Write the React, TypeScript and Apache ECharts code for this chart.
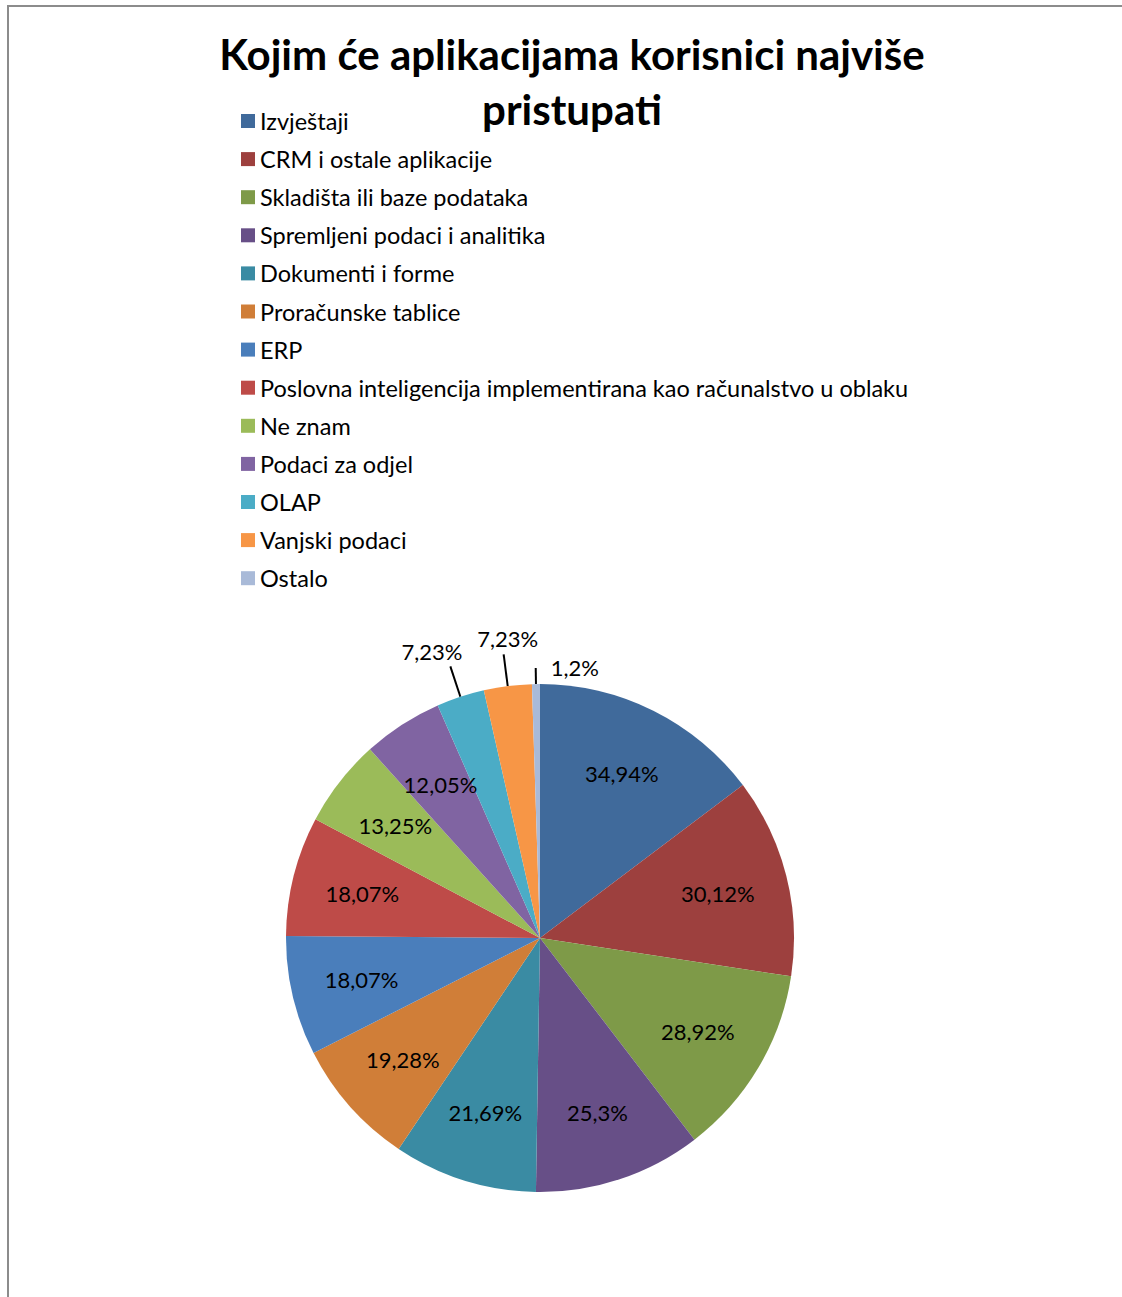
import React, { useEffect, useRef } from "react";
import * as echarts from "echarts";

const titleText = "Kojim će aplikacijama korisnici najviše\npristupati";

const categories = [
  "Izvještaji",
  "CRM i ostale aplikacije",
  "Skladišta ili baze podataka",
  "Spremljeni podaci i analitika",
  "Dokumenti i forme",
  "Proračunske tablice",
  "ERP",
  "Poslovna inteligencija implementirana kao računalstvo u oblaku",
  "Ne znam",
  "Podaci za odjel",
  "OLAP",
  "Vanjski podaci",
  "Ostalo",
];

const values = [34.94, 30.12, 28.92, 25.3, 21.69, 19.28, 18.07, 18.07, 13.25, 12.05, 7.23, 7.23, 1.2];

const colors = [
  "#406A9B",
  "#9D403E",
  "#7E9A48",
  "#674F87",
  "#3A8BA3",
  "#D07E38",
  "#4A7EBB",
  "#BE4B48",
  "#9BBB59",
  "#8064A2",
  "#4BACC6",
  "#F79646",
  "#A9BAD8",
];

// slices whose labels sit outside with leader lines
const outsideLabel = [false, false, false, false, false, false, false, false, false, false, true, true, true];

const fmt = (v: number) => String(v).replace(".", ",") + "%";

export default function App() {
  const ref = useRef<HTMLDivElement>(null);
  useEffect(() => {
    if (!ref.current) return;
    const chart = echarts.init(ref.current, null, { renderer: "svg" });
    const R = 254;
    const center = [540, 938];
    const labelFont = { fontFamily: "Lato", fontSize: 22, color: "#000" };
    const lineLen = [0, 0, 0, 0, 0, 0, 0, 0, 0, 0, 32, 32, 16];
    const lineLen2 = [0, 0, 0, 0, 0, 0, 0, 0, 0, 0, 0, 0, 0];
    chart.setOption({
      animation: false,
      color: colors,
      graphic: [
        {
          type: "rect",
          shape: { x: 8, y: 6, width: 1300, height: 1500 },
          style: { fill: "none", stroke: "#8c8c8c", lineWidth: 2 },
          silent: true,
        },
      ],
      title: {
        text: titleText,
        left: 567,
        top: 21,
        textAlign: "center",
        textStyle: {
          fontFamily: "Lato",
          fontSize: 42,
          fontWeight: "bold",
          lineHeight: 55,
          color: "#000",
        },
      },
      legend: {
        orient: "vertical",
        left: 241,
        top: 109,
        padding: 0,
        itemWidth: 14,
        itemHeight: 14,
        itemGap: 14.1,
        icon: "rect",
        data: categories,
        selectedMode: false,
        textStyle: { fontFamily: "Lato", fontSize: 23.5, lineHeight: 24, color: "#000" },
      },
      series: [
        {
          type: "pie",
          center,
          radius: [0, R],
          startAngle: 90,
          clockwise: true,
          silent: true,
          avoidLabelOverlap: false,
          itemStyle: { borderWidth: 0 },
          data: categories.map((name, i) => ({
            name,
            value: values[i],
            itemStyle: { color: colors[i] },
            label: { show: outsideLabel[i] },
            labelLine: { show: outsideLabel[i], length: lineLen[i], length2: lineLen2[i] },
          })),
          label: {
            position: "outside",
            formatter: (p: any) => fmt(p.value),
            ...labelFont,
          },
          labelLine: {
            lineStyle: { color: "#000", width: 2 },
          },
          labelLayout: (p: any) => {
            if (p.dataIndex === 10) return { align: "right", verticalAlign: "bottom", dx: 17, dy: -4, hideOverlap: false };
            if (p.dataIndex === 11) return { align: "center", verticalAlign: "bottom", dx: 9, dy: -5, hideOverlap: false };
            if (p.dataIndex === 12) return { align: "left", verticalAlign: "middle", dx: 20, dy: -1, hideOverlap: false };
            return {};
          },
        },
        {
          type: "pie",
          center,
          radius: [0, R * 1.42],
          startAngle: 90,
          clockwise: true,
          silent: true,
          z: 3,
          itemStyle: { color: "rgba(0,0,0,0)", borderWidth: 0 },
          emphasis: { disabled: true },
          data: categories.map((name, i) => ({
            name,
            value: values[i],
            label: { show: !outsideLabel[i] },
          })),
          label: {
            position: "inside",
            formatter: (p: any) => fmt(p.value),
            ...labelFont,
          },
          labelLine: { show: false },
        },
      ],
    });
    return () => chart.dispose();
  }, []);
  return (
    <div
      ref={ref}
      style={{ position: "absolute", left: 0, top: 0, width: 1122, height: 1297, background: "#fff" }}
    />
  );
}
